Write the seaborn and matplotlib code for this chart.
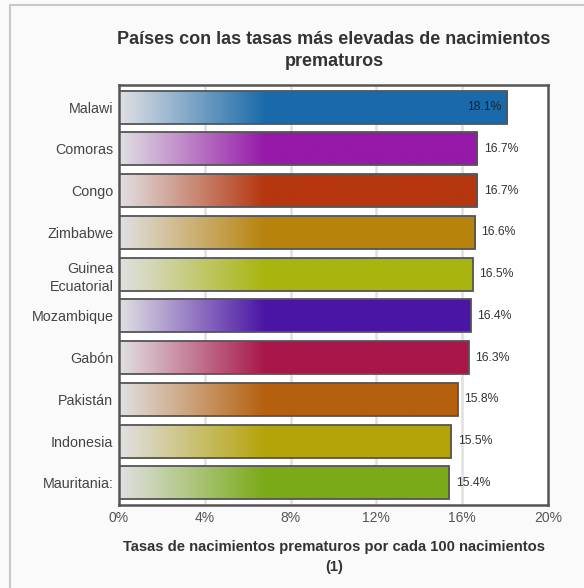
import numpy as np
import pandas as pd
import matplotlib
matplotlib.use("Agg")
import matplotlib.pyplot as plt
import matplotlib.colors as mcolors
from matplotlib.lines import Line2D
import seaborn as sns

countries = ["Malawi", "Comoras", "Congo", "Zimbabwe", "Guinea\nEcuatorial",
             "Mozambique", "Gabón", "Pakistán", "Indonesia", "Mauritania:"]
values = [18.1, 16.7, 16.7, 16.6, 16.5, 16.4, 16.3, 15.8, 15.5, 15.4]
labels = ["18.1%", "16.7%", "16.7%", "16.6%", "16.5%", "16.4%", "16.3%", "15.8%", "15.5%", "15.4%"]
colors = ["#1a6aab", "#9619a9", "#b5360f", "#b8830c", "#a8b50e",
          "#4a15a5", "#a8164a", "#b5600e", "#b5a30a", "#7aaa18"]
xticks = [0, 4, 8, 12, 16, 20]
xticklabels = ["0%", "4%", "8%", "12%", "16%", "20%"]
title = "Países con las tasas más elevadas de nacimientos\nprematuros"
xlabel = "Tasas de nacimientos prematuros por cada 100 nacimientos\n(1)"

df = pd.DataFrame({"country": countries, "value": values})

sns.set_style("white")
plt.rcParams["font.family"] = ["Liberation Sans", "DejaVu Sans"]

fig = plt.figure(figsize=(5.84, 5.88), dpi=100, facecolor="#fafafa")
ax = fig.add_axes([119/584, 1-505/588, (548-119)/584, (505-85)/588])
ax.set_facecolor("white")

sns.barplot(data=df, x="value", y="country", hue="country", palette=colors,
            legend=False, orient="h", width=0.79, edgecolor="#555555",
            linewidth=1.3, ax=ax, saturation=1)

start = np.array([0.88, 0.88, 0.89])
grad_end = 6.8
for patch, col in zip(ax.patches, colors):
    x0, y0 = patch.get_x(), patch.get_y()
    w, h = patch.get_width(), patch.get_height()
    n = 300
    xs = np.linspace(0, w, n)
    t = np.clip(xs / grad_end, 0, 1)[:, None]
    c = np.array(mcolors.to_rgb(col))
    row = start * (1 - t) + c * t
    img = row[None, :, :]
    im = ax.imshow(img, extent=[x0, x0 + w, y0 + h, y0], aspect="auto",
                   zorder=2, interpolation="bilinear")
    im.set_clip_path(patch)
    patch.set_facecolor("none")
    patch.set_zorder(3)

for i, (v, lab) in enumerate(zip(values, labels)):
    if v > 18:
        ax.text(v - 0.25, i, lab, ha="right", va="center", fontsize=8.8, color="#222222", zorder=4)
    else:
        ax.text(v + 0.3, i, lab, ha="left", va="center", fontsize=8.8, color="#333333", zorder=4)

ax.set_xlim(0, 20)
ax.set_ylim(9.53, -0.53)
ax.set_xticks(xticks)
ax.set_xticklabels(xticklabels)
for x in [4, 8, 12, 16]:
    ax.axvline(x, color="#e0e0e0", lw=1.8, zorder=1)
ax.tick_params(axis="both", length=0)
ax.tick_params(axis="x", labelsize=10, colors="#555555", pad=4)
ax.tick_params(axis="y", labelsize=10.3, colors="#444444", pad=4)
for t in ax.get_yticklabels():
    t.set_multialignment("right")
    t.set_linespacing(1.4)
ax.set_ylabel("")
ax.set_xlabel("")
for s in ax.spines.values():
    s.set_color("#555555")
    s.set_linewidth(1.8)
    s.set_visible(True)

fig.text(334/584, 1-50.5/588, title, ha="center", va="center", fontsize=13,
         fontweight="bold", color="#333333", linespacing=1.4)
fig.text(334/584, 1-557/588, xlabel, ha="center", va="center", fontsize=10.6,
         fontweight="bold", color="#333333", linespacing=1.5)

fig.add_artist(Line2D([10/584, 10/584], [0, 1-5/588], color="#c8c8c8", lw=1.5, transform=fig.transFigure))
fig.add_artist(Line2D([10/584, 1], [1-5/588, 1-5/588], color="#c8c8c8", lw=1.5, transform=fig.transFigure))

fig.savefig("out.png", dpi=100, facecolor=fig.get_facecolor())
